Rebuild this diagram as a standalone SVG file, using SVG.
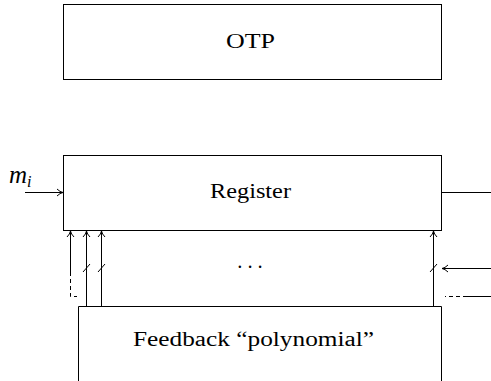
<svg xmlns="http://www.w3.org/2000/svg" width="491" height="381" viewBox="0 0 491 381">
<style>
.box{fill:#fff;stroke:#000;stroke-width:1}
.ln{fill:none;stroke:#000;stroke-width:1}
.dash{fill:none;stroke:#000;stroke-width:1;stroke-dasharray:4 3}
.t{font-family:"Liberation Serif","DejaVu Serif",serif;font-size:20px;fill:#000}
</style>
<defs>
<marker id="ah" viewBox="0 0 10 10" refX="9" refY="5" markerWidth="10" markerHeight="10" markerUnits="userSpaceOnUse" orient="auto">
<path d="M3,1.5 Q6,4.5 9,5 Q6,5.5 3,8.5" fill="none" stroke="#000" stroke-width="1"/>
</marker>
</defs>
<g id="otp"><rect class="box" x="63.5" y="4.5" width="378" height="75"/><text class="t" x="250.5" y="48" text-anchor="middle" textLength="49" lengthAdjust="spacingAndGlyphs">OTP</text></g>
<g id="register"><rect class="box" x="63.5" y="155.5" width="378" height="75"/><text class="t" x="250.5" y="198" text-anchor="middle" textLength="81" lengthAdjust="spacingAndGlyphs">Register</text></g>
<g id="feedback"><path class="ln" d="M78.5,381 V306.5 H441.5 V381"/><text class="t" x="253.5" y="346" text-anchor="middle" textLength="241" lengthAdjust="spacingAndGlyphs">Feedback “polynomial”</text></g>
<g id="mi"><text class="t" x="9" y="183" style="font-size:25px;font-style:italic">m<tspan style="font-size:16px" dy="4">i</tspan></text></g>
<g id="dots"><text class="t" x="250" y="274" text-anchor="middle" textLength="27" lengthAdjust="spacing">· · ·</text></g>
<g id="connectors">
<line class="ln" x1="25" y1="192.5" x2="63" y2="192.5" marker-end="url(#ah)"/>
<line class="ln" x1="441.5" y1="192.5" x2="491" y2="192.5"/>
<line class="ln" x1="70.5" y1="272" x2="70.5" y2="231" marker-end="url(#ah)"/>
<path class="dash" d="M70.5,272 V296.5 H77"/>
<line class="ln" x1="86.5" y1="306" x2="86.5" y2="231" marker-end="url(#ah)"/>
<line class="ln" x1="101.5" y1="306" x2="101.5" y2="231" marker-end="url(#ah)"/>
<line class="ln" x1="433.5" y1="306" x2="433.5" y2="231" marker-end="url(#ah)"/>
<line class="ln" x1="83" y1="272" x2="90" y2="264"/>
<line class="ln" x1="98" y1="272" x2="105" y2="264"/>
<line class="ln" x1="430" y1="272" x2="437" y2="264"/>
<line class="ln" x1="491" y1="268.5" x2="442" y2="268.5" marker-end="url(#ah)"/>
<line class="ln" x1="491" y1="296.5" x2="467" y2="296.5"/>
<line class="dash" x1="467" y1="296.5" x2="445" y2="296.5"/>
</g>
</svg>
